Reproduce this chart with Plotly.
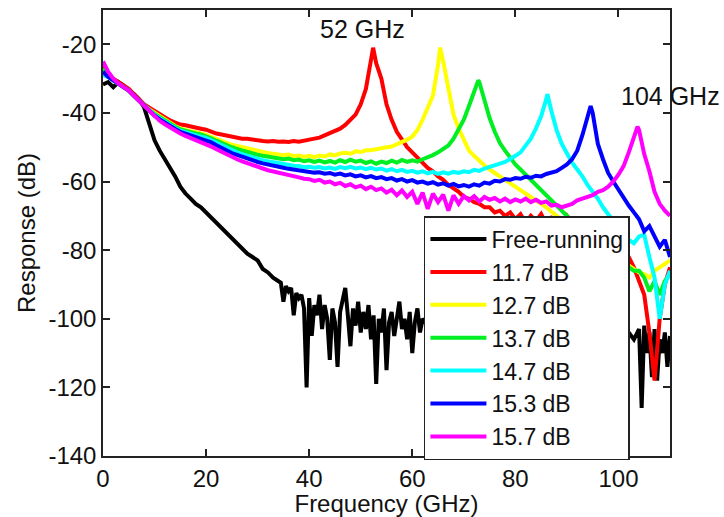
import numpy as np
import plotly.graph_objects as go

# ---------------- data ----------------
freq = np.arange(0, 111, 1.0)  # GHz grid for the injection-locked curves

labels = ["Free-running", "11.7 dB", "12.7 dB", "13.7 dB", "14.7 dB", "15.3 dB", "15.7 dB"]
colors = ["#000000", "#ff0000", "#ffff00", "#00ee22", "#00ffff", "#0000ff", "#ff00ff"]

x_ticks = [0, 20, 40, 60, 80, 100]
y_ticks = [-140, -120, -100, -80, -60, -40, -20]
y_tick_text = ["-140", "-120", "-100", "-80", "-60", "-40", "-20"]

# resonance peaks (GHz, dB) of the six locked curves
peak_freq = [52.4, 65.4, 72.8, 86.2, 94.6, 103.7]
peak_db = [-21.0, -21.0, -30.5, -34.5, -38.0, -44.0]

red_db = [
    -26.0, -29.0, -30.0, -31.0, -32.0, -33.0, -34.5, -36.0, -37.5, -38.5,
    -39.5, -40.5, -41.5, -42.2, -42.8, -43.4, -43.6, -44.0, -44.3, -44.6,
    -44.9, -45.5, -46.0, -46.3, -46.6, -47.0, -47.2, -47.5, -47.5, -47.8,
    -48.0, -48.2, -48.3, -48.2, -48.4, -48.3, -48.5, -48.2, -48.4, -48.0,
    -47.8, -47.5, -47.2, -46.6, -46.0, -45.2, -44.6, -43.5, -42.0, -40.5,
    -37.5, -33.0, -24.5, -25.5, -30.0, -37.5, -42.0, -45.5, -48.0, -50.0,
    -51.5, -53.0, -54.5, -56.0, -57.0, -58.5, -59.5, -61.0, -62.0, -63.0,
    -64.5, -65.0, -66.0, -66.5, -67.5, -67.5, -69.0, -68.5, -70.0, -69.0,
    -71.0, -69.5, -72.0, -70.0, -71.5, -69.5, -72.5, -70.5, -71.0, -73.0,
    -70.0, -72.0, -71.0, -73.5, -71.0, -74.0, -75.0, -76.0, -77.0, -78.0,
    -78.0, -80.0, -82.0, -85.0, -89.0, -93.0, -104.0, -118.0, -100.0, -90.0,
    -85.0,
]

yellow_db = [
    -28.0, -29.5, -30.5, -31.5, -32.5, -33.5, -35.0, -36.5, -38.0, -39.0,
    -40.0, -41.0, -42.0, -43.0, -43.8, -44.5, -45.0, -45.3, -45.6, -45.9,
    -46.3, -47.0, -47.6, -48.2, -48.8, -49.3, -49.6, -50.0, -50.4, -50.8,
    -51.2, -51.4, -51.7, -51.9, -52.0, -52.3, -52.1, -52.6, -52.4, -52.8,
    -52.5, -52.9, -52.4, -52.7, -52.1, -52.4, -51.8, -51.6, -51.9, -51.2,
    -51.4, -50.9, -50.9, -50.5, -50.2, -50.0, -49.8, -49.2, -48.5, -47.8,
    -46.9, -45.0, -42.0, -38.5, -35.0, -26.0, -25.0, -33.0, -40.5, -44.5,
    -48.0, -51.0, -52.5, -54.0, -55.3, -56.5, -57.5, -58.5, -59.5, -60.3,
    -61.5, -62.3, -63.5, -64.3, -65.3, -66.5, -67.5, -68.8, -70.0, -71.0,
    -72.5, -73.5, -74.5, -75.5, -76.5, -77.5, -78.5, -79.5, -80.5, -81.5,
    -82.5, -83.5, -84.5, -85.5, -86.5, -87.0, -88.0, -86.0, -85.0, -84.0,
    -83.0,
]

green_db = [
    -27.0, -29.0, -30.5, -31.5, -32.5, -33.5, -35.0, -36.5, -38.0, -39.2,
    -40.3, -41.3, -42.3, -43.2, -44.0, -44.8, -45.3, -45.7, -46.0, -46.3,
    -46.7, -47.4, -48.1, -48.8, -49.4, -50.0, -50.5, -51.0, -51.4, -51.8,
    -52.2, -52.5, -52.8, -53.0, -53.2, -53.5, -53.3, -53.8, -53.6, -54.1,
    -53.8, -54.3, -53.9, -54.4, -54.0, -54.5, -53.8, -54.3, -53.6, -54.2,
    -53.9, -54.6, -54.1, -54.8, -54.2, -54.6, -53.9, -54.5, -53.7, -54.3,
    -53.8, -54.2, -53.5, -53.0, -52.3, -51.5, -50.5, -49.5, -47.5, -45.0,
    -42.0, -38.0, -33.5, -31.0, -36.5, -41.5, -45.5, -48.8, -51.0, -53.0,
    -55.0, -56.5, -58.0, -59.5, -61.0, -62.5, -64.0, -65.8, -67.0, -68.5,
    -70.0, -71.5, -73.0, -74.5, -76.0, -77.0, -78.5, -80.0, -81.0, -82.0,
    -83.0, -84.0, -85.0, -86.0, -86.0, -88.0, -92.0, -89.0, -93.0, -89.0,
    -87.0,
]

cyan_db = [
    -29.0, -29.5, -30.5, -31.5, -32.5, -33.5, -35.0, -36.5, -38.0, -39.4,
    -40.6, -41.6, -42.6, -43.6, -44.4, -45.2, -45.7, -46.1, -46.5, -46.9,
    -47.3, -48.0, -48.8, -49.6, -50.3, -51.0, -51.5, -52.0, -52.5, -53.0,
    -53.4, -53.8, -54.1, -54.4, -54.6, -54.9, -55.1, -55.4, -55.5, -55.8,
    -55.7, -56.0, -55.8, -56.2, -55.9, -56.3, -55.8, -56.1, -55.7, -56.2,
    -55.9, -56.4, -56.0, -56.5, -56.2, -56.8, -56.4, -57.0, -56.6, -57.2,
    -56.9, -57.4, -57.0, -57.6, -57.2, -57.8, -57.3, -57.7, -57.2, -57.5,
    -57.0, -57.3, -56.6, -56.9, -56.2, -55.8, -55.5, -54.8, -54.3, -53.5,
    -52.5, -51.5, -49.5, -47.5, -44.5, -41.0, -36.0, -39.5, -45.0, -49.0,
    -52.0, -54.5, -56.5, -58.5, -61.0, -63.0, -65.0, -67.5, -69.5, -71.5,
    -73.5, -75.5, -77.0, -78.0, -76.0, -75.5, -82.0, -88.0, -100.0, -90.0,
    -86.0,
]

blue_db = [
    -28.0, -29.5, -30.5, -31.5, -32.5, -33.5, -35.0, -36.5, -38.0, -39.5,
    -40.8, -41.9, -42.9, -43.9, -44.7, -45.5, -46.0, -46.5, -46.9, -47.3,
    -47.8, -48.6, -49.4, -50.2, -51.0, -51.7, -52.2, -52.8, -53.3, -53.8,
    -54.3, -54.7, -55.1, -55.4, -55.7, -56.0, -56.3, -56.5, -56.8, -57.0,
    -57.1, -57.4, -57.3, -57.7, -57.5, -58.0, -57.7, -58.2, -57.9, -58.5,
    -58.2, -58.8, -58.4, -59.0, -58.7, -59.3, -59.0, -59.7, -59.3, -60.0,
    -59.6, -60.3, -60.0, -60.6, -60.2, -60.9, -60.5, -61.2, -60.7, -61.4,
    -61.0, -61.5, -60.8, -61.2, -60.3, -60.6, -59.8, -60.0, -59.3, -59.5,
    -59.0, -59.2, -58.6, -58.9, -58.3, -58.5, -57.8, -57.5, -57.0, -56.0,
    -55.0, -53.5, -51.0, -46.5, -41.5, -40.0, -49.0, -53.5, -57.5, -60.0,
    -62.5, -64.8, -67.0, -69.0, -71.0, -74.5, -73.0, -76.0, -79.0, -77.0,
    -82.0,
]

magenta_db = [
    -25.0, -28.0, -30.0, -31.5, -32.5, -33.5, -35.0, -36.5, -38.0, -39.5,
    -41.0, -42.3, -43.3, -44.3, -45.2, -46.0, -46.7, -47.3, -47.9, -48.4,
    -49.0, -49.8, -50.6, -51.4, -52.2, -52.9, -53.5, -54.1, -54.7, -55.3,
    -55.8, -56.2, -56.7, -57.0, -57.4, -57.8, -58.1, -58.5, -58.8, -59.2,
    -59.3, -59.8, -59.5, -60.3, -60.0, -60.8, -60.4, -61.3, -60.8, -61.7,
    -61.2, -62.2, -61.5, -62.5, -62.0, -63.2, -62.4, -64.0, -62.6, -64.5,
    -63.0, -66.5, -63.2, -68.0, -63.5, -66.0, -63.8, -68.5, -64.0, -66.5,
    -64.2, -65.5, -64.3, -65.8, -64.5, -65.3, -64.8, -65.8, -65.0, -66.0,
    -65.2, -65.8, -65.0, -66.0, -65.3, -66.2, -65.8, -67.0, -66.8, -67.5,
    -67.0, -66.5, -65.5, -65.0, -64.5, -64.0, -63.0, -62.5, -61.5, -60.0,
    -58.0, -55.5, -51.5, -46.5, -45.0, -52.0, -57.0, -63.0, -66.5, -68.5,
    -70.0,
]

# free-running response: own frequency grid (finer where it is noisy)
free_freq = np.concatenate([
    np.arange(0, 34, 1.0),
    np.arange(34, 62.5, 0.5),
    np.arange(63, 104, 1.0),
    np.arange(104, 110.5, 0.5),
])
free_db = [
    # 0 .. 33 GHz
    -31.7, -31.0, -32.5, -31.0, -32.0, -33.5, -34.5, -36.0, -38.5, -43.0,
    -48.0, -51.0, -53.5, -55.8, -58.5, -61.5, -63.5, -65.0, -66.5, -67.5,
    -69.0, -70.5, -72.0, -73.5, -75.0, -76.5, -78.0, -79.5, -81.0, -82.0,
    -83.0, -85.5, -86.5, -88.0,
    # 34 .. 62 GHz (0.5 GHz)
    -89.0, -89.5, -95.0, -90.5, -92.0, -91.0, -99.0, -92.5, -94.0, -93.0,
    -97.0, -120.0, -94.0, -105.0, -96.0, -99.0, -93.0, -103.0, -96.0, -100.0,
    -112.0, -97.0, -101.0, -114.0, -98.0, -95.0, -91.0, -99.0, -108.0, -97.0,
    -102.0, -95.0, -104.0, -98.0, -103.0, -96.0, -106.0, -99.0, -119.0, -100.0,
    -104.0, -97.0, -115.0, -101.0, -98.0, -105.0, -99.0, -95.0, -103.0, -100.0,
    -106.0, -98.0, -110.0, -101.0, -97.0, -104.0, -100.0,
    # 63 .. 103 GHz
    -102.0, -98.0, -105.0, -100.0, -103.0, -99.0, -106.0, -101.0, -104.0, -100.0,
    -107.0, -102.0, -104.0, -101.0, -106.0, -103.0, -105.0, -102.0, -108.0, -103.0,
    -105.0, -102.0, -107.0, -104.0, -106.0, -103.0, -108.0, -104.0, -106.0, -103.0,
    -107.0, -104.0, -109.0, -105.0, -107.0, -104.0, -108.0, -105.0, -107.0, -104.0,
    -106.0,
    # 104 .. 110 GHz (0.5 GHz)
    -103.0, -126.0, -102.0, -110.0, -104.0, -117.0, -103.0, -118.0, -106.0, -110.0,
    -104.0, -114.0, -105.0,
]

locked = [red_db, yellow_db, green_db, cyan_db, blue_db, magenta_db]

# ---------------- figure ----------------
FONT = "Arial, Liberation Sans, Helvetica, sans-serif"
fig = go.Figure()

fig.add_trace(go.Scatter(
    x=free_freq, y=free_db, mode="lines", name=labels[0],
    line=dict(color=colors[0], width=4),
))

for i, vals in enumerate(locked):
    xs = list(freq) + [peak_freq[i]]
    ys = list(vals) + [peak_db[i]]
    order = np.argsort(xs)
    fig.add_trace(go.Scatter(
        x=np.array(xs)[order], y=np.array(ys)[order], mode="lines",
        name=labels[i + 1], line=dict(color=colors[i + 1], width=4),
    ))

axis_common = dict(
    showgrid=False, zeroline=False, showline=True, linecolor="#222",
    linewidth=1.5, mirror="ticks", ticks="inside", ticklen=7, tickwidth=1.5,
    tickcolor="#222", tickfont=dict(family=FONT, size=24, color="#111"),
)

fig.update_layout(
    width=724, height=517,
    margin=dict(l=103, r=54, t=10, b=61),
    paper_bgcolor="white", plot_bgcolor="white",
    font=dict(family=FONT, size=24, color="#111"),
    xaxis=dict(range=[0, 110], tickvals=x_ticks,
               title=dict(text="Frequency (GHz)", standoff=2,
                          font=dict(family=FONT, size=24, color="#111")),
               automargin=False, **axis_common),
    yaxis=dict(range=[-140, -10], tickvals=y_ticks, ticktext=y_tick_text,
               title=dict(text="Response (dB)", standoff=6,
                          font=dict(family=FONT, size=24, color="#111")),
               automargin=False, **axis_common),
    legend=dict(
        x=0.566, y=0.538, xanchor="left", yanchor="top",
        bgcolor="white", bordercolor="#222", borderwidth=1.5,
        font=dict(family=FONT, size=23, color="#111"),
        itemwidth=56, tracegroupgap=0, traceorder="normal",
    ),
    showlegend=True,
)

fig.add_annotation(x=50.4, y=-15.6, xref="x", yref="y", text="52 GHz",
                   showarrow=False, font=dict(family=FONT, size=25, color="#111"))
fig.add_annotation(x=110, y=-35.2, xref="x", yref="y", text="104 GHz",
                   showarrow=False, font=dict(family=FONT, size=25, color="#111"))

fig.write_html("out.html")
